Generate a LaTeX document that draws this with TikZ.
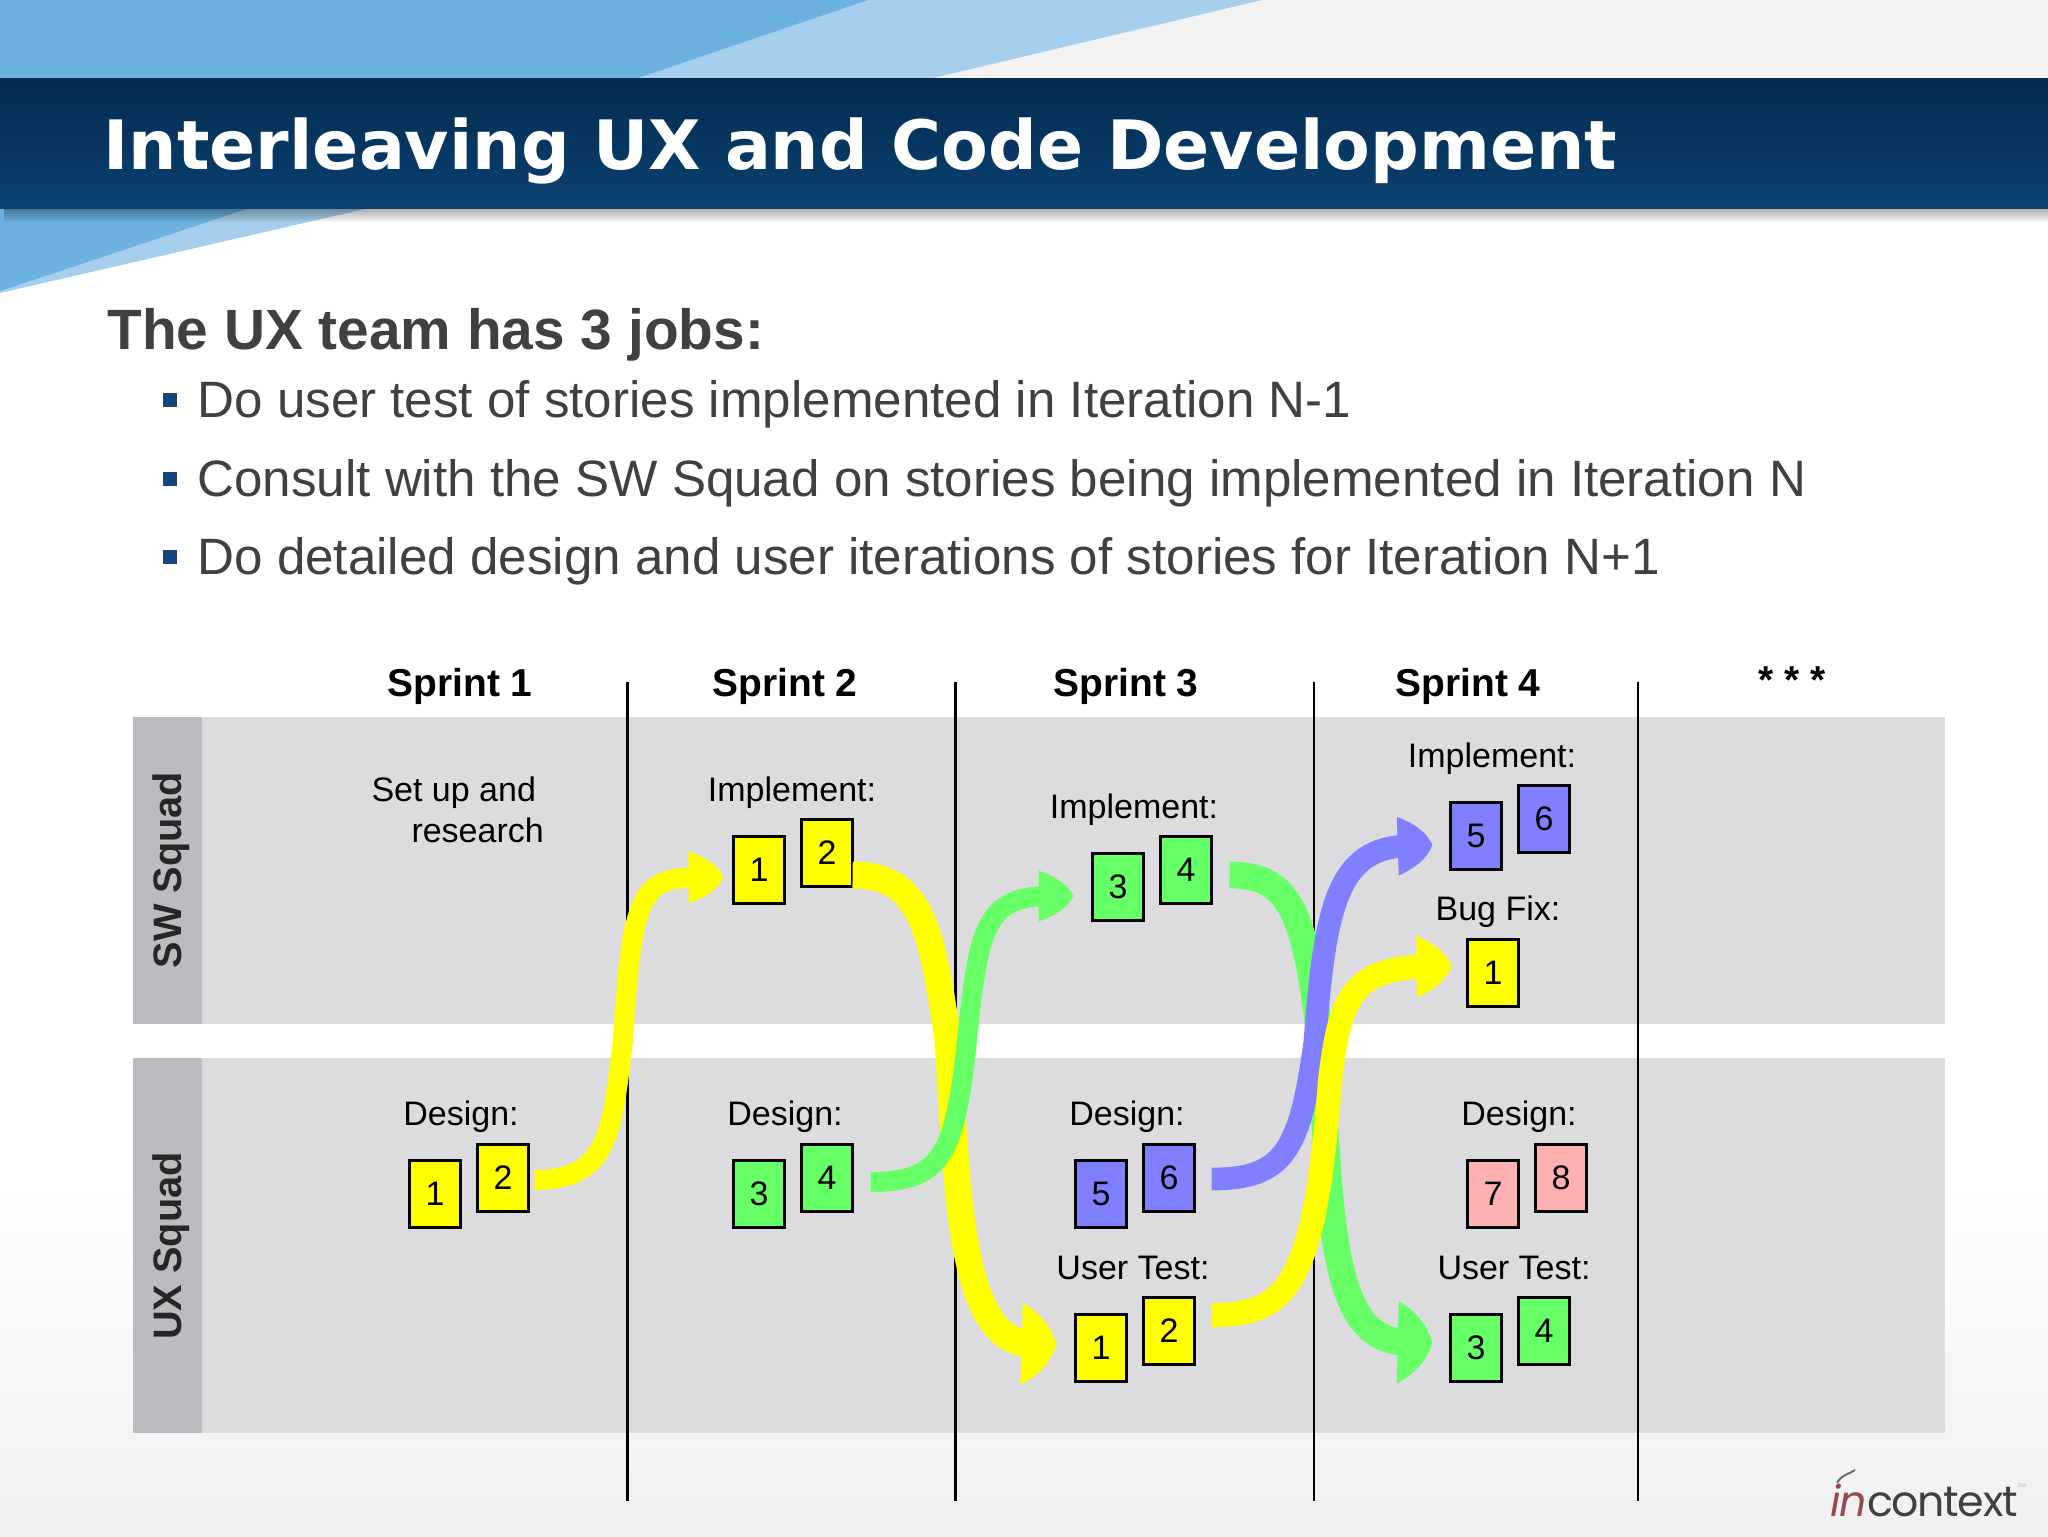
\documentclass[tikz,border=0pt]{standalone}
\usepackage{fontspec}
\setmainfont{Liberation Sans}
\newfontfamily\titlefont{DejaVu Sans}
\newfontfamily\logofont{Poppins}
\usetikzlibrary{arrows.meta}

\definecolor{bandgray}{RGB}{220,220,222}
\definecolor{stripgray}{RGB}{188,187,191}
\definecolor{skydark}{RGB}{108,178,224}
\definecolor{skylight}{RGB}{165,207,236}
\definecolor{bodygray}{RGB}{64,64,64}
\definecolor{markblue}{RGB}{20,70,125}
\definecolor{storyyellow}{RGB}{255,255,0}
\definecolor{storygreen}{RGB}{102,255,102}
\definecolor{storyblue}{RGB}{128,128,255}
\definecolor{storypink}{RGB}{255,176,176}

% head of the flow arrows, its sides bulge towards the tip
\pgfdeclarearrow{
	name = FlowHead,
	parameters = {\the\pgfarrowlength,\the\pgfarrowwidth},
	setup code = {
		\pgfarrowssettipend{\pgfarrowlength}
		\pgfarrowssetbackend{0pt}
		\pgfarrowssetlineend{.3\pgfarrowlength}
		\pgfarrowssetvisualbackend{.3\pgfarrowlength}
		\pgfarrowsupperhullpoint{0pt}{.5\pgfarrowwidth}
		\pgfarrowsupperhullpoint{\pgfarrowlength}{0pt}
		\pgfarrowssavethe\pgfarrowlength
		\pgfarrowssavethe\pgfarrowwidth
	},
	drawing code = {
		\pgfpathmoveto{\pgfqpoint{0pt}{.5\pgfarrowwidth}}
		\pgfpathcurveto{\pgfqpoint{.5\pgfarrowlength}{.38\pgfarrowwidth}}{\pgfqpoint{.85\pgfarrowlength}{.22\pgfarrowwidth}}{\pgfqpoint{\pgfarrowlength}{0pt}}
		\pgfpathcurveto{\pgfqpoint{.85\pgfarrowlength}{-.22\pgfarrowwidth}}{\pgfqpoint{.5\pgfarrowlength}{-.38\pgfarrowwidth}}{\pgfqpoint{0pt}{-.5\pgfarrowwidth}}
		\pgfpathclose
		\pgfusepathqfill
	},
	defaults = {length=26pt,width=60pt}
}

\tikzset{every picture/.style={line width=0.75pt}}
\tikzset{
	story/.style={draw=black,line width=2.2pt,minimum width=37.7pt,minimum height=49.9pt,inner sep=0pt,font=\fontsize{25.5}{30}\selectfont},
	cell/.style={anchor=base,inner sep=0pt,font=\fontsize{25.5}{30}\selectfont},
	sprint/.style={anchor=base,inner sep=0pt,font=\fontsize{29.2}{34}\selectfont\bfseries},
	squad/.style={rotate=90,inner sep=0pt,font=\fontsize{29.8}{34}\selectfont\bfseries,text=black!85},
	point/.style={anchor=base west,inner sep=0pt,text=bodygray,font=\fontsize{38.35}{44}\selectfont},
	bullet/.style={fill=markblue,minimum size=10.5pt,inner sep=0pt},
	flow/.style 2 args={line width=#1,-{FlowHead[width=#2]}},
	sep line/.style={line width=2pt},
}

\begin{document}
\begin{tikzpicture}[x=0.75pt,y=0.75pt,yscale=-1,xscale=1]
	\useasboundingbox (0,0) rectangle (2048,1536);

	%Shape: Background
	\fill [white] (0,0) rectangle (2048,1536);
	\fill [black!5] (0,0) rectangle (2048,78);
	\shade [top color=white,bottom color={rgb,255:red,240;green,239;blue,241}] (0,1180) rectangle (2048,1536);
	%Shape: Sky wedges
	\fill [skylight] (0,0) -- (1262,0) -- (933,78) -- (0,78) -- cycle;
	\fill [skydark] (0,0) -- (868,0) -- (638,78) -- (0,78) -- cycle;
	\fill [skylight] (0,208) -- (369,208) -- (0,293) -- cycle;
	\fill [skydark] (0,208) -- (249,208) -- (0,291) -- cycle;
	%Shape: Title band
	\foreach \drop in {2,4,...,14}
		\fill [black,opacity=0.05] (4,208) rectangle (2048,208+\drop);
	\shade [top color={rgb,255:red,3;green,44;blue,80},bottom color={rgb,255:red,11;green,64;blue,112}] (0,78) rectangle (2048,208);

	% Text Node
	\draw (103,169) node (title) [anchor=base west,inner sep=0pt,text=white,font=\fontsize{51.05}{60}\selectfont\titlefont\bfseries] {Interleaving UX and Code Development};
	% Text Node
	\draw (107,349) node (jobs) [anchor=base west,inner sep=0pt,text=bodygray,font=\fontsize{42.6}{50}\selectfont\bfseries] {The UX team has 3 jobs:};
	% Text Node
	\draw (169.5,400) node (mark1) [bullet] {};
	\draw (197,417) node (job1) [point] {Do user test of stories implemented in Iteration N-1};
	\draw (169.5,479) node (mark2) [bullet] {};
	\draw (197,496) node (job2) [point] {Consult with the SW Squad on stories being implemented in Iteration N};
	\draw (169.5,557) node (mark3) [bullet] {};
	\draw (197,574) node (job3) [point] {Do detailed design and user iterations of stories for Iteration N+1};

	%Shape: Squad bands
	\fill [bandgray] (133,717) rectangle (1945,1024);
	\fill [bandgray] (133,1058) rectangle (1945,1433);
	\fill [stripgray] (133,717) rectangle (202,1024);
	\fill [stripgray] (133,1058) rectangle (202,1433);
	%Straight Lines
	\draw [sep line] (627.5,682) -- (627.5,1501);
	\draw [sep line] (955.5,682) -- (955.5,1501);
	\draw [sep line] (1314,682) -- (1314,1501);
	\draw [sep line] (1638,682) -- (1638,1501);

	% Text Node
	\draw (460,696) node (sprint1) [sprint] {Sprint 1};
	\draw (785,696) node (sprint2) [sprint] {Sprint 2};
	\draw (1126,696) node (sprint3) [sprint] {Sprint 3};
	\draw (1468,696) node (sprint4) [sprint] {Sprint 4};
	\draw (1792,693) node (sprint5) [sprint] {* * *};
	\draw (171,870) node (sw) [squad] {SW Squad};
	\draw (171,1246) node (ux) [squad] {UX Squad};

	% Text Node
	\draw (371,801) node (setup) [anchor=base west,inner sep=0pt,font=\fontsize{25.5}{30}\selectfont] {Set up and};
	\draw (411,842) node (research) [anchor=base west,inner sep=0pt,font=\fontsize{25.5}{30}\selectfont] {research};
	\draw (461,1125) node (design1) [cell] {Design:};
	\draw (792,801) node (impl2) [cell] {Implement:};
	\draw (785,1125) node (design2) [cell] {Design:};
	\draw (1134,818) node (impl3) [cell] {Implement:};
	\draw (1127,1125) node (design3) [cell] {Design:};
	\draw (1133,1279) node (test3) [cell] {User Test:};
	\draw (1492,767) node (impl4) [cell] {Implement:};
	\draw (1498,920) node (fix4) [cell] {Bug Fix:};
	\draw (1519,1125) node (design4) [cell] {Design:};
	\draw (1514,1279) node (test4) [cell] {User Test:};

	%Shape: Story cards
	\draw (435,1194) node (d1a) [story,fill=storyyellow] {1};
	\draw (503,1178) node (d1b) [story,fill=storyyellow] {2};
	\draw (759,870) node (i2a) [story,fill=storyyellow] {1};
	\draw (827,853) node (i2b) [story,fill=storyyellow] {2};
	\draw (759,1194) node (d2a) [story,fill=storygreen] {3};
	\draw (827,1178) node (d2b) [story,fill=storygreen] {4};
	\draw (1118,887) node (i3a) [story,fill=storygreen] {3};
	\draw (1186,870) node (i3b) [story,fill=storygreen] {4};
	\draw (1101,1194) node (d3a) [story,fill=storyblue] {5};
	\draw (1169,1178) node (d3b) [story,fill=storyblue] {6};
	\draw (1101,1348) node (u3a) [story,fill=storyyellow] {1};
	\draw (1169,1331) node (u3b) [story,fill=storyyellow] {2};
	\draw (1476,836) node (i4a) [story,fill=storyblue] {5};
	\draw (1544,819) node (i4b) [story,fill=storyblue] {6};
	\draw (1493,973) node (b4) [story,fill=storyyellow] {1};
	\draw (1493,1194) node (d4a) [story,fill=storypink] {7};
	\draw (1561,1178) node (d4b) [story,fill=storypink] {8};
	\draw (1476,1348) node (u4a) [story,fill=storygreen] {3};
	\draw (1544,1331) node (u4b) [story,fill=storygreen] {4};

	%Curve Lines
	\coordinate (bend1) at (623,1041);
	\coordinate (bend2) at (948,1041);
	\coordinate (bend3) at (967,1041);
	\coordinate (bend4) at (1322,1060);
	\coordinate (bend5) at (1315,1041);
	\coordinate (bend6) at (1330,1080);
	\draw [flow={15pt}{39pt},storyyellow] ([shift={(5,2)}]d1b.east) .. controls (610,1180) and (612,1130) .. (bend1) .. controls (632,890) and (642,878) .. ([shift={(-9,7)}]i2a.west);
	\draw [flow={20pt}{61.5pt},storyyellow] ([shift={(-1,22)}]i2b.east) .. controls (922,875) and (932,930) .. (bend2) .. controls (958,1200) and (960,1342) .. ([shift={(-18,-3)}]u3a.west);
	\draw [flow={15pt}{38pt},storygreen] ([shift={(17,4)}]d2b.east) .. controls (945,1182) and (955,1150) .. (bend3) .. controls (978,930) and (985,896) .. ([shift={(-18,9)}]i3a.west);
	\draw [flow={20pt}{62pt},storygreen] ([shift={(17,5)}]i3b.east) .. controls (1290,875) and (1307,910) .. (bend4) .. controls (1330,1260) and (1340,1341) .. ([shift={(-17,-5)}]u4a.west);
	\draw [flow={17pt}{44pt},storyblue] ([shift={(16,1)}]d3b.east) .. controls (1285,1179) and (1300,1150) .. (bend5) .. controls (1325,900) and (1340,848) .. ([shift={(-17,9)}]i4a.west);
	\draw [flow={18pt}{46pt},storyyellow] ([shift={(16,-16)}]u3b.east) .. controls (1285,1315) and (1315,1290) .. (bend6) .. controls (1340,1000) and (1350,968) .. ([shift={(-15,-7)}]b4.west);

	% Text Node
	\draw (1830,1516) node (logoname) [anchor=base west,inner sep=0pt,text=black!75,font=\fontsize{32}{38}\selectfont\logofont\addfontfeature{LetterSpace=-3}] {\textcolor{red!40!black!70}{\itshape in}context};
	\draw (2022,1486) node (logomark) [inner sep=0pt,text=black!30,font=\fontsize{4}{5}\selectfont] {SM};
	\draw [line width=1.4pt,black!60] (1837,1483) .. controls (1842,1474) and (1850,1474) .. (1855,1470);
\end{tikzpicture}
\end{document}
